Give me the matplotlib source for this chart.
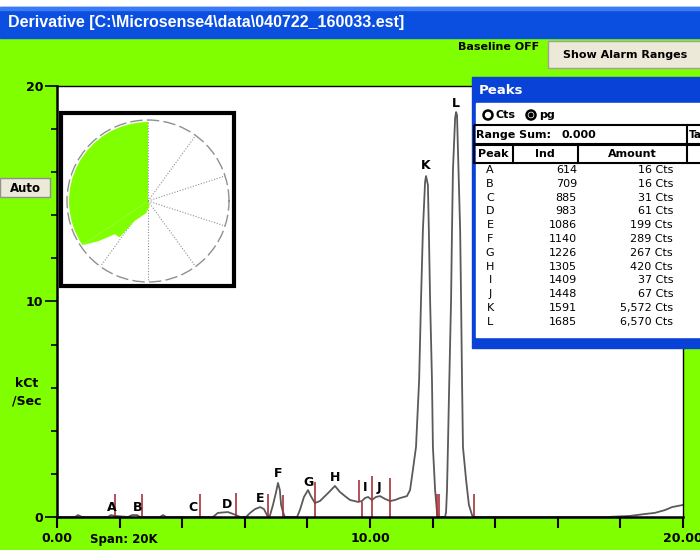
import numpy as np
import matplotlib
matplotlib.use('Agg')
from matplotlib import pyplot as plt
from matplotlib.patches import Rectangle, Circle, Wedge, Polygon

# derivative trace, x 0..20, kCt/Sec
curve_x = [0.00, 0.58, 0.67, 0.80, 1.63, 1.72, 1.85, 2.27, 2.40, 2.56, 2.65,
           3.29, 3.39, 3.48, 4.98, 5.14, 5.46, 5.72, 5.85, 6.04, 6.17, 6.33,
           6.49, 6.61, 6.74, 6.80, 6.90, 7.00, 7.06, 7.12, 7.16, 7.22, 7.28,
           7.67, 7.76, 7.89, 8.02, 8.11, 8.24, 8.40, 8.66, 8.88, 9.04, 9.20,
           9.36, 9.62, 9.74, 9.84, 9.94, 10.06, 10.19, 10.32, 10.48, 10.64,
           10.80, 10.96, 11.18, 11.28, 11.37, 11.47, 11.57, 11.63, 11.69,
           11.76, 11.79, 11.85, 11.88, 11.92, 11.98, 12.01, 12.08, 12.14,
           12.17, 12.40, 12.43, 12.46, 12.49, 12.52, 12.59, 12.62, 12.65,
           12.72, 12.75, 12.78, 12.81, 12.88, 12.91, 12.94, 12.97, 13.07,
           13.16, 13.26, 13.32, 17.57, 18.31, 18.79, 19.10, 19.42, 19.65, 20.00]
curve_y = [0.00, 0.00, 0.09, 0.00, 0.00, 0.09, 0.05, 0.00, 0.09, 0.09, 0.00,
           0.00, 0.09, 0.00, 0.00, 0.19, 0.23, 0.09, 0.00, 0.00, 0.19, 0.37,
           0.46, 0.37, 0.00, 0.05, 0.56, 1.16, 1.58, 1.25, 0.56, 0.23, 0.00,
           0.00, 0.32, 0.93, 1.25, 0.97, 0.65, 0.74, 1.11, 1.44, 1.16, 0.97,
           0.79, 0.70, 0.74, 0.88, 0.93, 0.79, 0.93, 0.97, 0.84, 0.74,
           0.79, 0.88, 0.97, 1.25, 2.18, 3.25, 6.36, 10.07, 13.32,
           15.55, 15.82, 15.41, 13.32, 10.07, 6.36, 3.25, 1.25, 0.23,
           0.00, 0.00, 0.23, 1.25, 3.25, 5.43, 10.07, 13.32, 16.10,
           18.52, 18.79, 18.65, 17.03, 13.32, 10.07, 6.36, 3.25, 1.72,
           0.56, 0.09, 0.00, 0.00, 0.05, 0.14, 0.19, 0.32, 0.46, 0.56]

# peak letters over the trace
label_names = ['A', 'B', 'C', 'D', 'E', 'F', 'G', 'H', 'I', 'J', 'K', 'L']
label_x = [1.76, 2.56, 4.35, 5.43, 6.49, 7.06, 8.05, 8.88, 9.84, 10.29, 11.79, 12.75]
label_y = [0.42, 0.42, 0.42, 0.56, 0.84, 2.04, 1.58, 1.81, 1.35, 1.39, 16.29, 19.21]

# red peak boundary markers
marker_x = [1.85, 2.72, 4.57, 5.72, 6.74, 7.22, 8.24, 9.65, 9.74, 10.06, 10.64, 12.14, 12.20, 13.32]
marker_top = [1.07, 1.07, 1.07, 1.11, 1.07, 1.02, 1.62, 1.72, 0.70, 1.90, 1.81, 1.07, 1.07, 1.07]
marker_bottom = [0, 0, 0, 0, 0, 0, 0, 0.70, 0, 0, 0, 0, 0, 0]

# peaks table
table_ind = [614, 709, 885, 983, 1086, 1140, 1226, 1305, 1409, 1448, 1591, 1685]
table_amount = ['16 Cts', '16 Cts', '31 Cts', '61 Cts', '199 Cts', '289 Cts',
                '267 Cts', '420 Cts', '37 Cts', '67 Cts', '5,572 Cts', '6,570 Cts']

# small polar inset: full sector plus the notched lower edge (deg, fraction of radius)
sector_start, sector_end, sector_r = 90, 214, 0.975
notch_theta = [214, 214, 219, 225, 232, 236, 262, 289, 300]
notch_r = [0.0, 0.975, 0.79, 0.58, 0.57, 0.30, 0.15, 0.06, 0.0]

GREEN = '#80ff00'
BLUE = '#0b4fe0'
BTN = '#ece9d8'
BOLD = dict(fontweight='bold', color='black')

fig = plt.figure(figsize=(7, 5.5), dpi=100, facecolor=GREEN)

# 主图
ax = fig.add_axes([57 / 700, 33 / 550, 626 / 700, 431 / 550], zorder=1)
ax.set_facecolor('white')
ax.plot(curve_x, curve_y, color='#5a5a5a', lw=1.3, clip_on=False)
ax.vlines(marker_x, marker_bottom, marker_top, color='#a8323c', lw=1.2)
for name, lx, ly in zip(label_names, label_x, label_y):
    ax.text(lx, ly, name, ha='center', va='center', fontsize=9, **BOLD)
ax.set_xlim(0, 20)
ax.set_ylim(0, 20)
ax.set_xticks(range(0, 21, 2))
ax.set_xticklabels(['0.00', '', '', '', '', '10.00', '', '', '', '', '20.00'],
                   fontsize=9, fontweight='bold')
ax.set_yticks([0, 10, 20])
ax.set_yticklabels(['0', '10', '20'], fontsize=9, fontweight='bold')
ax.set_yticks([2, 4, 6, 8, 12, 14, 16, 18], minor=True)
ax.tick_params(axis='x', direction='out', length=8, width=1.5, pad=3)
ax.tick_params(axis='y', which='major', direction='out', length=9, width=1.2, pad=1)
ax.tick_params(axis='y', which='minor', direction='out', length=4, width=1.2)
for side in ['left', 'bottom']:
    ax.spines[side].set_linewidth(1.8)
for side in ['top', 'right']:
    ax.spines[side].set_linewidth(1.0)
ax.set_ylabel('kCt\n/Sec', rotation=0, fontsize=9, fontweight='bold',
              ha='center', va='center', linespacing=1.4)
ax.yaxis.set_label_coords(-0.049, 0.29)

# 界面元素 (像素坐标)
ui = fig.add_axes([0, 0, 1, 1], zorder=5)
ui.set_xlim(0, 700)
ui.set_ylim(550, 0)
ui.axis('off')
ui.patch.set_alpha(0)

ui.add_patch(Rectangle((0, 0), 700, 7, color='white'))
ui.add_patch(Rectangle((0, 7), 700, 31, color=BLUE))
ui.add_patch(Rectangle((0, 7), 700, 3, color='#3a7af5'))
ui.text(8, 23, 'Derivative [C:\\Microsense4\\data\\040722_160033.est]',
        color='white', fontsize=11.5, fontweight='bold', va='center',
        family=['Liberation Sans', 'DejaVu Sans'])

ui.text(458, 47, 'Baseline OFF', fontsize=8, va='center', **BOLD)
ui.add_patch(Rectangle((548, 41), 160, 27, fc=BTN, ec='#a0a0a0', lw=1))
ui.text(625, 55, 'Show Alarm Ranges', fontsize=8, ha='center', va='center', **BOLD)

ui.add_patch(Rectangle((0, 178), 50, 19, fc=BTN, ec='#909090', lw=1))
ui.text(25, 188, 'Auto', fontsize=8.5, ha='center', va='center', **BOLD)

ui.text(90, 540, 'Span: 20K', fontsize=8.5, va='center', **BOLD)

# Peaks 窗口
ui.add_patch(Rectangle((472, 77), 240, 271, color='#0842d6'))
ui.add_patch(Rectangle((476, 103), 230, 234, color='white'))
ui.text(479, 91, 'Peaks', color='white', fontsize=9.5, fontweight='bold', va='center')
ui.add_patch(Circle((488, 115), 4.5, fill=False, ec='black', lw=1.8))
ui.text(496, 115, 'Cts', fontsize=8, va='center', **BOLD)
ui.add_patch(Circle((531, 115), 4.5, fill=False, ec='black', lw=1.8))
ui.add_patch(Circle((531, 115), 1.8, color='black'))
ui.text(539, 115, 'pg', fontsize=8, va='center', **BOLD)

ui.add_patch(Rectangle((474, 125), 232, 19, fill=False, ec='black', lw=1.5))
ui.plot([687, 687], [125, 144], color='black', lw=1.5)
ui.text(476, 134.5, 'Range Sum:', fontsize=8, va='center', **BOLD)
ui.text(561, 134.5, '0.000', fontsize=8, va='center', **BOLD)
ui.text(688.5, 134.5, 'Ta', fontsize=7.5, va='center', **BOLD)

ui.add_patch(Rectangle((474, 145), 232, 18, fill=False, ec='black', lw=1.5))
for vx in [513, 578, 687]:
    ui.plot([vx, vx], [145, 163], color='black', lw=1.5)
ui.text(493, 154, 'Peak', fontsize=8, ha='center', va='center', **BOLD)
ui.text(545, 154, 'Ind', fontsize=8, ha='center', va='center', **BOLD)
ui.text(632, 154, 'Amount', fontsize=8, ha='center', va='center', **BOLD)

for i, (name, ind, amt) in enumerate(zip(label_names, table_ind, table_amount)):
    ry = 170 + i * 13.8
    ui.text(490, ry, name, fontsize=8, ha='center', va='center')
    ui.text(577, ry, str(ind), fontsize=8, ha='right', va='center')
    ui.text(673, ry, amt, fontsize=8, ha='right', va='center')

# 小极坐标图: 白框 + 网格 + 绿色区域
ui.add_patch(Rectangle((61, 113), 173, 173, fc='white', ec='black', lw=3))
cx, cy, R = 148, 201, 81
pax = fig.add_axes([(cx - R) / 700, (550 - cy - R) / 550, 2 * R / 700, 2 * R / 550],
                   projection='polar', zorder=6)
pax.patch.set_alpha(0)
pax.set_ylim(0, 1)
pax.set_yticks([])
pax.set_thetagrids(np.arange(18, 360, 36), labels=[''] * 10)
pax.xaxis.grid(True, color='#909090', linestyle=(0, (1, 1.5)), linewidth=0.8)
pax.spines['polar'].set_linestyle((0, (8, 4)))
pax.spines['polar'].set_color('#909090')
pax.spines['polar'].set_linewidth(1.0)

top = fig.add_axes([0, 0, 1, 1], zorder=7)
top.set_xlim(0, 700)
top.set_ylim(550, 0)
top.axis('off')
top.patch.set_alpha(0)
# y 轴向下, 所以角度取负
top.add_patch(Wedge((cx, cy), R * sector_r, -sector_end, -sector_start, color=GREEN, lw=0))
th = np.deg2rad(notch_theta)
rr = R * np.array(notch_r)
top.add_patch(Polygon(np.column_stack([cx + rr * np.cos(th), cy - rr * np.sin(th)]),
                      closed=True, color=GREEN, lw=0))

fig.savefig('out.png', dpi=100, facecolor=GREEN)
